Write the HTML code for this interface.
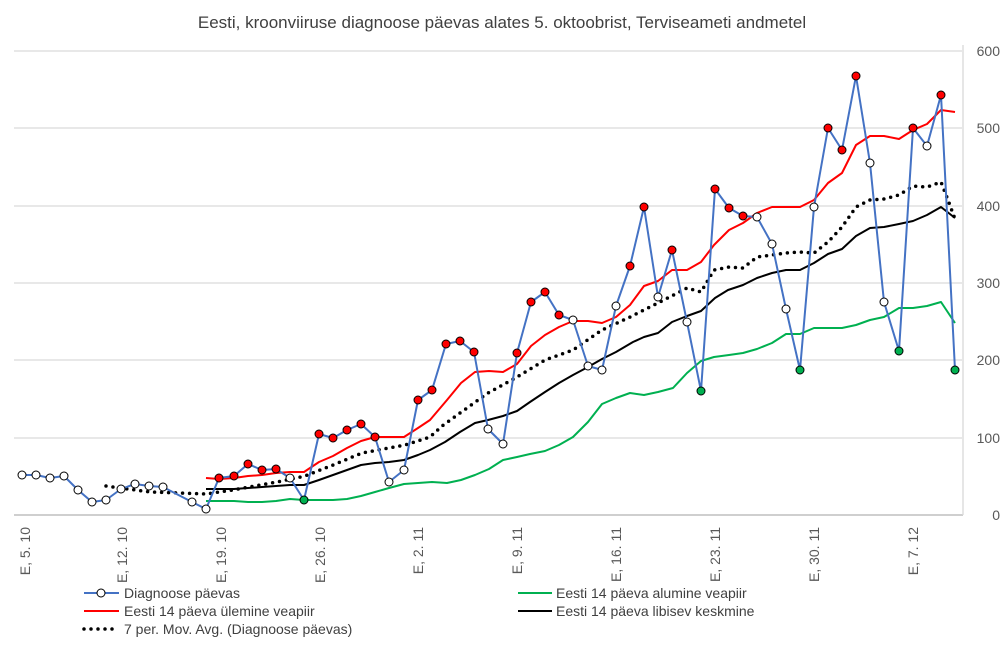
<!DOCTYPE html>
<html><head><meta charset="utf-8"><style>
body{margin:0;background:#fff}
svg{display:block;font-family:"Liberation Sans",sans-serif}
</style></head><body>
<svg width="1005" height="656" viewBox="0 0 1005 656" xmlns="http://www.w3.org/2000/svg">
<rect width="1005" height="656" fill="#fff"/>
<text x="502" y="28" font-size="17" text-anchor="middle" fill="#404040">Eesti, kroonviiruse diagnoose päevas alates 5. oktoobrist, Terviseameti andmetel</text>
<g stroke="#d9d9d9" stroke-width="1.3">
<line x1="14" x2="962" y1="51" y2="51"/><line x1="14" x2="962" y1="128" y2="128"/><line x1="14" x2="962" y1="206" y2="206"/><line x1="14" x2="962" y1="283" y2="283"/><line x1="14" x2="962" y1="360" y2="360"/><line x1="14" x2="962" y1="438" y2="438"/>
</g>
<line x1="14" x2="963" y1="515" y2="515" stroke="#bfbfbf" stroke-width="1.5"/>
<line x1="963" x2="963" y1="45" y2="515" stroke="#d9d9d9" stroke-width="1.3"/>
<g font-size="14" fill="#595959" text-anchor="end">
<text x="1000" y="56">600</text><text x="1000" y="133">500</text><text x="1000" y="211">400</text><text x="1000" y="288">300</text><text x="1000" y="365">200</text><text x="1000" y="443">100</text><text x="1000" y="520">0</text>
</g>
<g font-size="14" fill="#595959" text-anchor="end">
<text transform="translate(30,527) rotate(-90)">E, 5. 10</text>
<text transform="translate(127,527) rotate(-90)">E, 12. 10</text>
<text transform="translate(226,527) rotate(-90)">E, 19. 10</text>
<text transform="translate(325,527) rotate(-90)">E, 26. 10</text>
<text transform="translate(423,527) rotate(-90)">E, 2. 11</text>
<text transform="translate(522,527) rotate(-90)">E, 9. 11</text>
<text transform="translate(621,527) rotate(-90)">E, 16. 11</text>
<text transform="translate(720,527) rotate(-90)">E, 23. 11</text>
<text transform="translate(819,527) rotate(-90)">E, 30. 11</text>
<text transform="translate(918,527) rotate(-90)">E, 7. 12</text>
</g>
<g fill="none" stroke-width="2" stroke-linejoin="round">
<polyline stroke="#00b050" points="206,501 219,501 234,501 248,502 262,502 276,501 290,499 304,500 319,500 333,500 347,499 361,496 375,492 389,488 404,484 418,483 432,482 447,483 461,480 475,475 489,469 503,460 517,457 530,454 545,451 559,445 573,437 588,422 602,404 616,398 630,393 644,395 658,392 673,388 687,373 701,361 714,357 729,355 743,353 757,349 772,343 786,334 800,334 814,328 828,328 842,328 856,325 870,320 884,317 899,308 913,308 927,306 941,302 955,323"/>
<polyline stroke="#ff0000" points="206,478 219,479 234,478 248,476 262,475 276,473 290,472 304,472 319,462 333,456 347,448 361,441 375,437 389,437 404,437 418,428 430,420 447,400 461,383 475,372 489,371 503,372 517,364 531,346 545,335 559,327 573,321 588,321 602,323 616,317 630,305 644,286 658,281 672,270 687,270 701,262 714,245 729,230 743,223 757,213 772,207 786,207 800,207 814,200 828,183 842,173 856,145 870,136 884,136 899,139 913,130 927,124 941,110 955,112"/>
<polyline stroke="#000" points="206,489 219,489 234,489 248,488 262,487 276,486 290,485 304,485 319,480 333,475 347,470 361,465 375,463 389,462 404,460 418,455 430,450 445,442 460,432 475,423 488,420 503,416 517,411 530,402 545,392 559,383 573,375 588,367 602,359 616,352 633,342 644,337 658,333 672,322 687,316 701,311 715,298 728,290 743,285 757,278 772,273 786,270 800,270 814,263 828,254 842,249 856,236 870,228 884,227 899,224 913,221 927,215 941,207 955,218"/>
<polyline stroke="#000" stroke-width="3.5" stroke-linecap="round" stroke-dasharray="0 7" points="106,486 150,492 206,494 233,490 277,482 305,476 333,465 362,453 405,445 430,437 442,426 460,413 488,393 517,377 545,360 573,350 602,330 630,317 658,303 687,288 701,292 714,270 729,267 743,268 757,257 772,255 786,253 800,252 814,253 828,242 842,227 856,207 870,200 884,199 899,195 913,186 927,187 941,182 948,200 955,219"/>
<polyline stroke="#4472c4" points="22,475 36,475 50,478 64,476 78,490 92,502 106,500 121,489 135,484 149,486 163,487 192,502 206,509 219,478 234,476 248,464 262,470 276,469 290,478 304,500 319,434 333,438 347,430 361,424 375,437 389,482 404,470 418,400 432,390 446,344 460,341 474,352 488,429 503,444 517,353 531,302 545,292 559,315 573,320 588,366 602,370 616,306 630,266 644,207 658,297 672,250 687,322 701,391 715,189 729,208 743,216 757,217 772,244 786,309 800,370 814,207 828,128 842,150 856,76 870,163 884,302 899,351 913,128 927,146 941,95 955,370"/>
</g>
<g stroke="#000" stroke-width="1">
<g fill="#fff">
<circle cx="22" cy="475" r="4"/><circle cx="36" cy="475" r="4"/><circle cx="50" cy="478" r="4"/><circle cx="64" cy="476" r="4"/><circle cx="78" cy="490" r="4"/><circle cx="92" cy="502" r="4"/><circle cx="106" cy="500" r="4"/><circle cx="121" cy="489" r="4"/><circle cx="135" cy="484" r="4"/><circle cx="149" cy="486" r="4"/><circle cx="163" cy="487" r="4"/><circle cx="192" cy="502" r="4"/><circle cx="206" cy="509" r="4"/><circle cx="290" cy="478" r="4"/><circle cx="389" cy="482" r="4"/><circle cx="404" cy="470" r="4"/><circle cx="488" cy="429" r="4"/><circle cx="503" cy="444" r="4"/><circle cx="573" cy="320" r="4"/><circle cx="588" cy="366" r="4"/><circle cx="602" cy="370" r="4"/><circle cx="616" cy="306" r="4"/><circle cx="658" cy="297" r="4"/><circle cx="687" cy="322" r="4"/><circle cx="757" cy="217" r="4"/><circle cx="772" cy="244" r="4"/><circle cx="786" cy="309" r="4"/><circle cx="814" cy="207" r="4"/><circle cx="870" cy="163" r="4"/><circle cx="884" cy="302" r="4"/><circle cx="927" cy="146" r="4"/>
</g>
<g fill="#ff0000">
<circle cx="219" cy="478" r="4"/><circle cx="234" cy="476" r="4"/><circle cx="248" cy="464" r="4"/><circle cx="262" cy="470" r="4"/><circle cx="276" cy="469" r="4"/><circle cx="319" cy="434" r="4"/><circle cx="333" cy="438" r="4"/><circle cx="347" cy="430" r="4"/><circle cx="361" cy="424" r="4"/><circle cx="375" cy="437" r="4"/><circle cx="418" cy="400" r="4"/><circle cx="432" cy="390" r="4"/><circle cx="446" cy="344" r="4"/><circle cx="460" cy="341" r="4"/><circle cx="474" cy="352" r="4"/><circle cx="517" cy="353" r="4"/><circle cx="531" cy="302" r="4"/><circle cx="545" cy="292" r="4"/><circle cx="559" cy="315" r="4"/><circle cx="630" cy="266" r="4"/><circle cx="644" cy="207" r="4"/><circle cx="672" cy="250" r="4"/><circle cx="715" cy="189" r="4"/><circle cx="729" cy="208" r="4"/><circle cx="743" cy="216" r="4"/><circle cx="828" cy="128" r="4"/><circle cx="842" cy="150" r="4"/><circle cx="856" cy="76" r="4"/><circle cx="913" cy="128" r="4"/><circle cx="941" cy="95" r="4"/>
</g>
<g fill="#00b050">
<circle cx="304" cy="500" r="4"/><circle cx="701" cy="391" r="4"/><circle cx="800" cy="370" r="4"/><circle cx="899" cy="351" r="4"/><circle cx="955" cy="370" r="4"/>
</g>
</g>
<g font-size="14" fill="#404040">
<line x1="84" x2="119" y1="593" y2="593" stroke="#4472c4" stroke-width="2"/>
<circle cx="101" cy="593" r="4" fill="#fff" stroke="#000"/>
<text x="124" y="598">Diagnoose päevas</text>
<line x1="84" x2="119" y1="611" y2="611" stroke="#ff0000" stroke-width="2"/>
<text x="124" y="616">Eesti 14 päeva ülemine veapiir</text>
<line x1="84" x2="119" y1="629" y2="629" stroke="#000" stroke-width="3.5" stroke-linecap="round" stroke-dasharray="0 7"/>
<text x="124" y="634">7 per. Mov. Avg. (Diagnoose päevas)</text>
<line x1="518" x2="552" y1="593" y2="593" stroke="#00b050" stroke-width="2"/>
<text x="556" y="598">Eesti 14 päeva alumine veapiir</text>
<line x1="518" x2="552" y1="611" y2="611" stroke="#000" stroke-width="2"/>
<text x="556" y="616">Eesti 14 päeva libisev keskmine</text>
</g>
</svg>
</body></html>
